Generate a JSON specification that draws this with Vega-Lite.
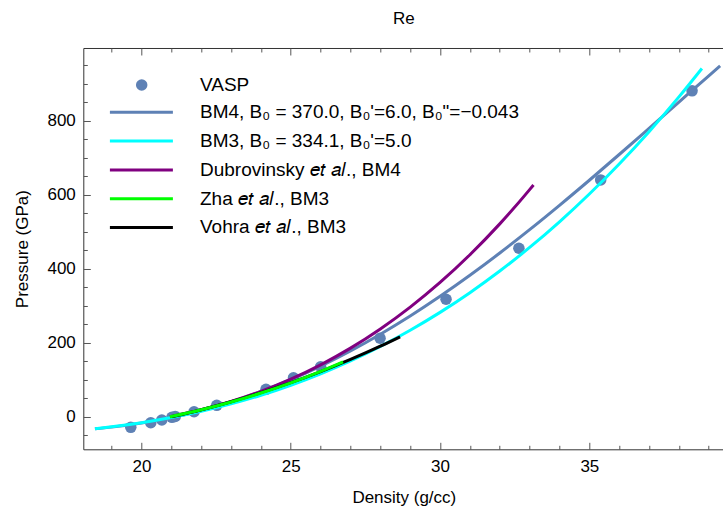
{
  "$schema": "https://vega.github.io/schema/vega-lite/v6.json",
  "autosize": "none",
  "width": 641,
  "height": 401.3,
  "padding": {"left": 83.3, "top": 48, "right": 0, "bottom": 62},
  "background": "white",
  "title": {"text": "Re", "font": "Liberation Sans", "fontSize": 17, "fontWeight": "normal", "color": "black", "offset": 19, "anchor": "middle", "frame": "group"},
  "config": {
    "view": {"stroke": "#333333", "strokeWidth": 1},
    "axis": {"domain": false, "grid": false, "ticks": true, "tickColor": "#555555", "tickWidth": 1, "labelFont": "Liberation Sans", "labelFontSize": 17, "labelColor": "black", "titleFont": "Liberation Sans", "titleFontSize": 17, "titleFontWeight": "normal", "titleColor": "black", "labelFlush": false, "labelOverlap": false},
    "legend": {"labelFont": "Liberation Sans", "labelFontSize": 19, "labelColor": "black", "padding": 0, "labelLimit": 600}
  },
  "layer": [
    {
      "data": {"values": [
        {"density": 19.64, "pressure": -28.6},
        {"density": 20.31, "pressure": -16.2},
        {"density": 20.68, "pressure": -8.9},
        {"density": 21.02, "pressure": -1.6},
        {"density": 21.13, "pressure": 0.8},
        {"density": 21.76, "pressure": 13.5},
        {"density": 22.52, "pressure": 30.8},
        {"density": 24.17, "pressure": 74.0},
        {"density": 25.09, "pressure": 105.0},
        {"density": 26.0, "pressure": 135.0},
        {"density": 27.99, "pressure": 211.9},
        {"density": 30.2, "pressure": 317.3},
        {"density": 32.64, "pressure": 455.0},
        {"density": 35.38, "pressure": 639.7},
        {"density": 38.44, "pressure": 880.3}
      ]},
      "mark": {"type": "circle", "size": 133, "opacity": 1},
      "encoding": {
        "x": {"field": "density", "type": "quantitative",
          "scale": {"domain": [18.05, 39.52], "nice": false, "zero": false},
          "axis": {"orient": "bottom", "values": [19,20,21,22,23,24,25,26,27,28,29,30,31,32,33,34,35,36,37,38,39],
            "labelExpr": "datum.value % 5 === 0 ? datum.label : ''",
            "tickSize": {"condition": {"test": "datum.value % 5 === 0", "value": -7}, "value": -4},
            "labelPadding": 16, "title": "Density (g/cc)", "titlePadding": 12}},
        "y": {"field": "pressure", "type": "quantitative",
          "scale": {"domain": [-88, 996], "nice": false, "zero": false},
          "axis": {"orient": "left", "values": [-50,0,50,100,150,200,250,300,350,400,450,500,550,600,650,700,750,800,850,900,950],
            "labelExpr": "datum.value % 200 === 0 ? datum.label : ''",
            "tickSize": {"condition": {"test": "datum.value % 200 === 0", "value": -7}, "value": -4},
            "labelPadding": 15, "title": "Pressure (GPa)", "titlePadding": 15}},
        "fill": {"datum": "VASP", "type": "nominal",
          "scale": {"domain": ["VASP"], "range": ["#5E81B5"]},
          "legend": {"title": null, "orient": "none", "legendX": 48.9, "legendY": 27.5, "symbolType": "circle", "symbolSize": 133, "symbolStrokeWidth": 0, "labelOffset": 48.8}}
      }
    },
    {
      "encoding": {
        "x": {"field": "density", "type": "quantitative",
          "axis": {"orient": "top", "values": [19,20,21,22,23,24,25,26,27,28,29,30,31,32,33,34,35,36,37,38,39], "labels": false,
            "tickSize": {"condition": {"test": "datum.value % 5 === 0", "value": -7}, "value": -4}, "title": null}},
        "y": {"field": "pressure", "type": "quantitative", "axis": null},
        "stroke": {"field": "series", "type": "nominal",
          "scale": {"domain": ["BM4, B₀ = 370.0, B₀'=6.0, B₀\"=−0.043", "BM3, B₀ = 334.1, B₀'=5.0", "Dubrovinsky 𝑒𝑡 𝑎𝑙., BM4", "Zha 𝑒𝑡 𝑎𝑙., BM3", "Vohra 𝑒𝑡 𝑎𝑙., BM3"],
            "range": ["#5E81B5", "#00FFFF", "#800080", "#00FF00", "#000000"]},
          "legend": {"title": null, "orient": "none", "legendX": 48.6, "legendY": 54.8, "symbolType": "M-4,0H4", "symbolSize": 248, "symbolStrokeWidth": 3, "labelOffset": 49.1, "rowPadding": 8.8}}
      },
      "layer": [
        {
          "data": {"values": [
            {"series": "BM4, B₀ = 370.0, B₀'=6.0, B₀\"=−0.043", "density": 18.44, "pressure": -32.7},
            {"series": "BM4, B₀ = 370.0, B₀'=6.0, B₀\"=−0.043", "density": 19, "pressure": -28.1},
            {"series": "BM4, B₀ = 370.0, B₀'=6.0, B₀\"=−0.043", "density": 20, "pressure": -17.1},
            {"series": "BM4, B₀ = 370.0, B₀'=6.0, B₀\"=−0.043", "density": 21, "pressure": -2.1},
            {"series": "BM4, B₀ = 370.0, B₀'=6.0, B₀\"=−0.043", "density": 22, "pressure": 17.0},
            {"series": "BM4, B₀ = 370.0, B₀'=6.0, B₀\"=−0.043", "density": 23, "pressure": 40.4},
            {"series": "BM4, B₀ = 370.0, B₀'=6.0, B₀\"=−0.043", "density": 24, "pressure": 68.2},
            {"series": "BM4, B₀ = 370.0, B₀'=6.0, B₀\"=−0.043", "density": 25, "pressure": 100.3},
            {"series": "BM4, B₀ = 370.0, B₀'=6.0, B₀\"=−0.043", "density": 26, "pressure": 136.9},
            {"series": "BM4, B₀ = 370.0, B₀'=6.0, B₀\"=−0.043", "density": 27, "pressure": 177.8},
            {"series": "BM4, B₀ = 370.0, B₀'=6.0, B₀\"=−0.043", "density": 28, "pressure": 222.9},
            {"series": "BM4, B₀ = 370.0, B₀'=6.0, B₀\"=−0.043", "density": 29, "pressure": 272.1},
            {"series": "BM4, B₀ = 370.0, B₀'=6.0, B₀\"=−0.043", "density": 30, "pressure": 325.3},
            {"series": "BM4, B₀ = 370.0, B₀'=6.0, B₀\"=−0.043", "density": 31, "pressure": 382.1},
            {"series": "BM4, B₀ = 370.0, B₀'=6.0, B₀\"=−0.043", "density": 32, "pressure": 442.2},
            {"series": "BM4, B₀ = 370.0, B₀'=6.0, B₀\"=−0.043", "density": 33, "pressure": 505.3},
            {"series": "BM4, B₀ = 370.0, B₀'=6.0, B₀\"=−0.043", "density": 34, "pressure": 571.0},
            {"series": "BM4, B₀ = 370.0, B₀'=6.0, B₀\"=−0.043", "density": 35, "pressure": 638.8},
            {"series": "BM4, B₀ = 370.0, B₀'=6.0, B₀\"=−0.043", "density": 36, "pressure": 708.3},
            {"series": "BM4, B₀ = 370.0, B₀'=6.0, B₀\"=−0.043", "density": 37, "pressure": 778.9},
            {"series": "BM4, B₀ = 370.0, B₀'=6.0, B₀\"=−0.043", "density": 38, "pressure": 849.9},
            {"series": "BM4, B₀ = 370.0, B₀'=6.0, B₀\"=−0.043", "density": 39, "pressure": 920.8},
            {"series": "BM4, B₀ = 370.0, B₀'=6.0, B₀\"=−0.043", "density": 39.38, "pressure": 947.5}
          ]},
          "mark": {"type": "line", "strokeWidth": 3, "interpolate": "monotone"}
        },
        {
          "data": {"values": [
            {"series": "BM3, B₀ = 334.1, B₀'=5.0", "density": 18.44, "pressure": -32.5},
            {"series": "BM3, B₀ = 334.1, B₀'=5.0", "density": 19, "pressure": -27.4},
            {"series": "BM3, B₀ = 334.1, B₀'=5.0", "density": 20, "pressure": -16.2},
            {"series": "BM3, B₀ = 334.1, B₀'=5.0", "density": 21, "pressure": -2.3},
            {"series": "BM3, B₀ = 334.1, B₀'=5.0", "density": 22, "pressure": 14.5},
            {"series": "BM3, B₀ = 334.1, B₀'=5.0", "density": 23, "pressure": 34.6},
            {"series": "BM3, B₀ = 334.1, B₀'=5.0", "density": 24, "pressure": 58.0},
            {"series": "BM3, B₀ = 334.1, B₀'=5.0", "density": 25, "pressure": 85.0},
            {"series": "BM3, B₀ = 334.1, B₀'=5.0", "density": 26, "pressure": 115.9},
            {"series": "BM3, B₀ = 334.1, B₀'=5.0", "density": 27, "pressure": 150.8},
            {"series": "BM3, B₀ = 334.1, B₀'=5.0", "density": 28, "pressure": 189.9},
            {"series": "BM3, B₀ = 334.1, B₀'=5.0", "density": 29, "pressure": 233.6},
            {"series": "BM3, B₀ = 334.1, B₀'=5.0", "density": 30, "pressure": 281.9},
            {"series": "BM3, B₀ = 334.1, B₀'=5.0", "density": 31, "pressure": 335.1},
            {"series": "BM3, B₀ = 334.1, B₀'=5.0", "density": 32, "pressure": 393.5},
            {"series": "BM3, B₀ = 334.1, B₀'=5.0", "density": 33, "pressure": 457.2},
            {"series": "BM3, B₀ = 334.1, B₀'=5.0", "density": 34, "pressure": 526.5},
            {"series": "BM3, B₀ = 334.1, B₀'=5.0", "density": 35, "pressure": 601.6},
            {"series": "BM3, B₀ = 334.1, B₀'=5.0", "density": 36, "pressure": 682.8},
            {"series": "BM3, B₀ = 334.1, B₀'=5.0", "density": 37, "pressure": 770.1},
            {"series": "BM3, B₀ = 334.1, B₀'=5.0", "density": 38, "pressure": 863.9},
            {"series": "BM3, B₀ = 334.1, B₀'=5.0", "density": 38.77, "pressure": 940.7}
          ]},
          "mark": {"type": "line", "strokeWidth": 3, "interpolate": "monotone"}
        },
        {
          "data": {"values": [
            {"series": "Dubrovinsky 𝑒𝑡 𝑎𝑙., BM4", "density": 20.95, "pressure": 0},
            {"series": "Dubrovinsky 𝑒𝑡 𝑎𝑙., BM4", "density": 22, "pressure": 18.7},
            {"series": "Dubrovinsky 𝑒𝑡 𝑎𝑙., BM4", "density": 23, "pressure": 41.2},
            {"series": "Dubrovinsky 𝑒𝑡 𝑎𝑙., BM4", "density": 24, "pressure": 68.6},
            {"series": "Dubrovinsky 𝑒𝑡 𝑎𝑙., BM4", "density": 25, "pressure": 101.5},
            {"series": "Dubrovinsky 𝑒𝑡 𝑎𝑙., BM4", "density": 26, "pressure": 140.2},
            {"series": "Dubrovinsky 𝑒𝑡 𝑎𝑙., BM4", "density": 27, "pressure": 185.2},
            {"series": "Dubrovinsky 𝑒𝑡 𝑎𝑙., BM4", "density": 28, "pressure": 237.0},
            {"series": "Dubrovinsky 𝑒𝑡 𝑎𝑙., BM4", "density": 29, "pressure": 296.0},
            {"series": "Dubrovinsky 𝑒𝑡 𝑎𝑙., BM4", "density": 30, "pressure": 362.6},
            {"series": "Dubrovinsky 𝑒𝑡 𝑎𝑙., BM4", "density": 31, "pressure": 437.5},
            {"series": "Dubrovinsky 𝑒𝑡 𝑎𝑙., BM4", "density": 32, "pressure": 520.9},
            {"series": "Dubrovinsky 𝑒𝑡 𝑎𝑙., BM4", "density": 33, "pressure": 613.4},
            {"series": "Dubrovinsky 𝑒𝑡 𝑎𝑙., BM4", "density": 33.13, "pressure": 626.1}
          ]},
          "mark": {"type": "line", "strokeWidth": 3, "interpolate": "monotone"}
        },
        {
          "data": {"values": [
            {"series": "Vohra 𝑒𝑡 𝑎𝑙., BM3", "density": 21.0, "pressure": 0},
            {"series": "Vohra 𝑒𝑡 𝑎𝑙., BM3", "density": 22, "pressure": 19.0},
            {"series": "Vohra 𝑒𝑡 𝑎𝑙., BM3", "density": 23, "pressure": 40.6},
            {"series": "Vohra 𝑒𝑡 𝑎𝑙., BM3", "density": 24, "pressure": 64.9},
            {"series": "Vohra 𝑒𝑡 𝑎𝑙., BM3", "density": 25, "pressure": 92.0},
            {"series": "Vohra 𝑒𝑡 𝑎𝑙., BM3", "density": 26, "pressure": 121.9},
            {"series": "Vohra 𝑒𝑡 𝑎𝑙., BM3", "density": 27, "pressure": 154.7},
            {"series": "Vohra 𝑒𝑡 𝑎𝑙., BM3", "density": 28, "pressure": 190.5},
            {"series": "Vohra 𝑒𝑡 𝑎𝑙., BM3", "density": 28.66, "pressure": 215.9}
          ]},
          "mark": {"type": "line", "strokeWidth": 3, "interpolate": "monotone"}
        },
        {
          "data": {"values": [
            {"series": "Zha 𝑒𝑡 𝑎𝑙., BM3", "density": 20.95, "pressure": 0},
            {"series": "Zha 𝑒𝑡 𝑎𝑙., BM3", "density": 22, "pressure": 18.9},
            {"series": "Zha 𝑒𝑡 𝑎𝑙., BM3", "density": 23, "pressure": 39.9},
            {"series": "Zha 𝑒𝑡 𝑎𝑙., BM3", "density": 24, "pressure": 64.1},
            {"series": "Zha 𝑒𝑡 𝑎𝑙., BM3", "density": 25, "pressure": 91.5},
            {"series": "Zha 𝑒𝑡 𝑎𝑙., BM3", "density": 26, "pressure": 122.5},
            {"series": "Zha 𝑒𝑡 𝑎𝑙., BM3", "density": 26.75, "pressure": 148.1}
          ]},
          "mark": {"type": "line", "strokeWidth": 3, "interpolate": "monotone"}
        }
      ]
    }
  ],
  "resolve": {"axis": {"x": "independent", "y": "independent"}}
}
